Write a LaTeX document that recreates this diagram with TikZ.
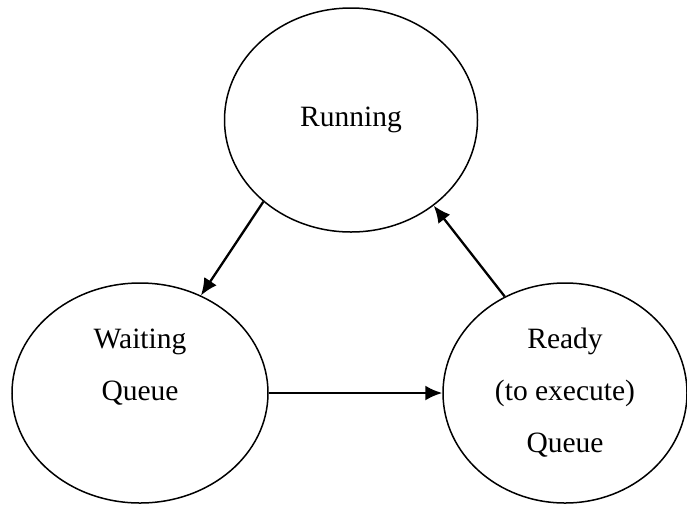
\documentclass[tikz,border=0pt]{standalone}
\usepackage{fontspec}
\setmainfont{Liberation Serif}
\usetikzlibrary{shapes.geometric,arrows.meta}
\begin{document}
\begin{tikzpicture}[x=1pt,y=-1pt,
  state/.style={ellipse,draw,line width=1.5pt,inner sep=0pt,align=center,
    font=\fontsize{29.5}{52}\selectfont},
  conn/.style={line width=2.3pt,-{Latex[length=17pt,width=15pt]}}]
\useasboundingbox (0,0) rectangle (687,504);
\node[state,minimum width=253pt,minimum height=224pt] (run) at (351,120) {\raisebox{-4pt}{Running}};
\node[state,minimum width=256pt,minimum height=220pt] (wait) at (140,393) {Waiting\\Queue\\[0pt]\vphantom{Q}};
\node[state,minimum width=244pt,minimum height=220pt] (ready) at (565,393) {Ready\\(to execute)\\Queue};
\draw[conn] (run.223.6) -- (wait.58.3);
\draw[conn] (wait.east) -- (ready.west);
\draw[conn] (ready.122.9) -- (run.-46.3);
\end{tikzpicture}
\end{document}
